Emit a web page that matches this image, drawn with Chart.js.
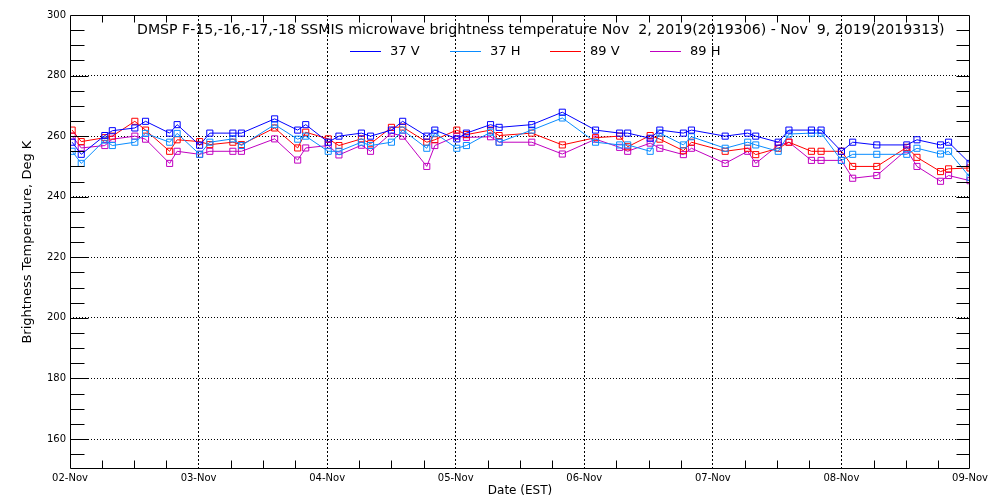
<!DOCTYPE html>
<html><head><meta charset="utf-8">
<style>html,body{margin:0;padding:0;background:#fff;}canvas{display:block;}</style>
<script src="https://cdn.jsdelivr.net/npm/chart.js@4.4.1/dist/chart.umd.min.js"></script>
</head><body>
<canvas id="c" width="1000" height="500"></canvas>
<script>
// hours since 02-Nov-2019 00:00 EST
const hours = [0.4,2.1,6.5,7.9,12.1,14.1,18.6,20.0,24.2,26.1,30.4,32.0,38.2,42.5,44.0,48.2,50.2,54.4,56.1,60.0,62.1,66.6,68.1,72.2,74.0,78.5,80.1,86.2,91.9,98.1,102.6,104.1,108.3,110.1,114.5,116.0,122.3,126.5,128.0,132.2,134.2,138.4,140.2,144.0,146.1,150.6,156.2,158.1,162.5,164.0,168.0];
const tb37V = [258,254,260.2,261.8,262.7,264.9,261,263.8,257,261,261,261,265.7,262,263.8,258,260,261,260,262,264.9,260,262,259.1,261,263.8,262.9,263.8,267.9,262,261,261,259.3,262,261,262,260,261,260,258,262,262,262,255,258,257.1,257.1,258.8,257.1,258,251];
const tb37H = [255,251,258.7,256.9,258,260.9,258,260.9,254,258,259.1,256.9,263.8,259,260,255,255,258,256.9,258,262,256,261,256,256.9,261.3,258,262,266,258,257.1,257.1,255,261,257.1,259.8,256,258,257.1,255,260.7,261,261,252,254,254,254,256,254.1,255,246.4];
const tb89V = [262,258.2,259.5,260,264.9,262,255,258.8,258.2,257.2,258,257.2,262.7,256.1,261.3,259.1,256.9,259.1,257.5,262.9,263,258,258.8,262,260.5,262,260.2,261,257.1,259.5,260,256.5,260.2,259,255.2,258,255,256,253.9,256,258,255,255,255,250,250,256.3,253,248.3,249.2,249.5];
const tb89H = [260,256.1,256.9,259,260,259,251,255,254,255,255,255,259.1,252.1,256.1,256.9,253.8,257,255,261,260,250,256.9,260,259.6,259.8,258,258,254.1,259,256.3,255,257.7,256,253.9,256,251,255,251,257,258,252,252,252,246.1,247,255.5,250,245.1,247,245.3];
const seriesNames = ['37 V','37 H','89 V','89 H'];
const seriesColors = ['#0000ff','#0a8cff','#ff0000','#c000c0'];
const dayLabels = ['02-Nov','03-Nov','04-Nov','05-Nov','06-Nov','07-Nov','08-Nov','09-Nov'];
const dayTicks = [0,24,48,72,96,120,144,168];
const yTicks = [160,180,200,220,240,260,280,300];
const titleText = 'DMSP F-15,-16,-17,-18 SSMIS microwave brightness temperature Nov  2, 2019(2019306) - Nov  9, 2019(2019313)';
const FONT = '"DejaVu Sans", sans-serif';

const toPts = arr => arr.map((v,i)=>({x:hours[i], y:v}));
const allSeries = [tb37V, tb37H, tb89V, tb89H];
const datasets = allSeries.map((arr,i)=>({
  label: seriesNames[i],
  data: toPts(arr),
  borderColor: seriesColors[i],
  backgroundColor: seriesColors[i],
  borderWidth: 1,
  pointStyle: 'rect',
  pointRadius: 4.3,
  pointHoverRadius: 4.3,
  pointBorderWidth: 1,
  pointBorderColor: seriesColors[i],
  pointBackgroundColor: 'rgba(0,0,0,0)',
  tension: 0
}));

const framePlugin = {
  id: 'frame',
  afterDatasetsDraw(chart){
    const {ctx, chartArea:a, scales:{x,y}} = chart;
    const L = Math.round(a.left)+0.5, R = Math.round(a.right)-0.5, T = Math.round(a.top)+0.5, B = Math.round(a.bottom)-0.5;
    ctx.save();
    ctx.strokeStyle = '#000'; ctx.lineWidth = 1; ctx.setLineDash([]);
    ctx.beginPath();
    ctx.rect(L, T, R-L, B-T);
    for (let v=155; v<300; v+=5){
      const py = Math.round(y.getPixelForValue(v))+0.5;
      const major = v%20===0;
      ctx.moveTo(L, py); ctx.lineTo(L+(major?18:14), py);
      ctx.moveTo(R, py); ctx.lineTo(R-13, py);
    }
    for (let h=6; h<168; h+=6){
      if (h%24===0) continue;
      const px = Math.round(x.getPixelForValue(h))+0.5;
      ctx.moveTo(px, B); ctx.lineTo(px, B-8);
      ctx.moveTo(px, T); ctx.lineTo(px, T+7);
    }
    ctx.stroke();
    ctx.restore();
  },
  afterDraw(chart){
    const {ctx, chartArea:a} = chart;
    ctx.save();
    ctx.fillStyle = '#000';
    ctx.textBaseline = 'middle';
    ctx.textAlign = 'left';
    ctx.font = '13px ' + FONT;
    const w = ctx.measureText(titleText).width;
    const size = 13*808/w;
    ctx.font = size.toFixed(2)+'px ' + FONT;
    ctx.fillText(titleText, a.left+67, 30);
    ctx.font = '13px ' + FONT;
    const ly = 51.5;
    seriesNames.forEach((n,i)=>{
      const x0 = a.left + 280 + i*100;
      ctx.strokeStyle = seriesColors[i]; ctx.lineWidth = 1;
      ctx.beginPath(); ctx.moveTo(x0, ly); ctx.lineTo(x0+31, ly); ctx.stroke();
      ctx.fillStyle = '#000';
      ctx.fillText(n, x0+40, ly);
    });
    ctx.restore();
  }
};

new Chart(document.getElementById('c'), {
  type: 'line',
  data: { datasets },
  options: {
    responsive: false,
    devicePixelRatio: 1,
    animation: false,
    events: [],
    layout: { padding: { top: 15, right: 30, left: 0, bottom: 0 } },
    plugins: { legend: { display: false }, title: { display: false }, tooltip: { enabled: false } },
    scales: {
      x: {
        type: 'linear', min: 0, max: 168,
        afterBuildTicks: s => { s.ticks = dayTicks.map(v=>({value:v})); },
        afterFit: s => { s.height = 30.7; },
        ticks: {
          autoSkip: false, maxRotation: 0, minRotation: 0, padding: 3,
          color: '#000', font: { family: FONT, size: 10 },
          callback: v => dayLabels[dayTicks.indexOf(v)]
        },
        grid: {
          drawTicks: false,
          color: c => (c.tick && (c.tick.value===0 || c.tick.value===168)) ? 'rgba(0,0,0,0)' : '#000',
          lineWidth: 1
        },
        border: { display: false, dash: [2,2] },
        title: { display: true, text: 'Date (EST)', color: '#000', font: { family: FONT, size: 12 }, padding: { top: 0, bottom: 2 } }
      },
      y: {
        type: 'linear', min: 150, max: 300,
        afterBuildTicks: s => { s.ticks = yTicks.map(v=>({value:v})); },
        afterFit: s => { s.width = 70; },
        ticks: { padding: 4, color: '#000', font: { family: FONT, size: 10 } },
        grid: {
          drawTicks: false,
          color: c => (c.tick && c.tick.value===300) ? 'rgba(0,0,0,0)' : '#000',
          lineWidth: 1
        },
        border: { display: false, dash: [1,2] },
        title: { display: true, text: 'Brightness Temperature, Deg K', color: '#000', font: { family: FONT, size: 13 }, padding: { top: 20, bottom: 0 } }
      }
    }
  },
  plugins: [framePlugin]
});
</script>
</body></html>
